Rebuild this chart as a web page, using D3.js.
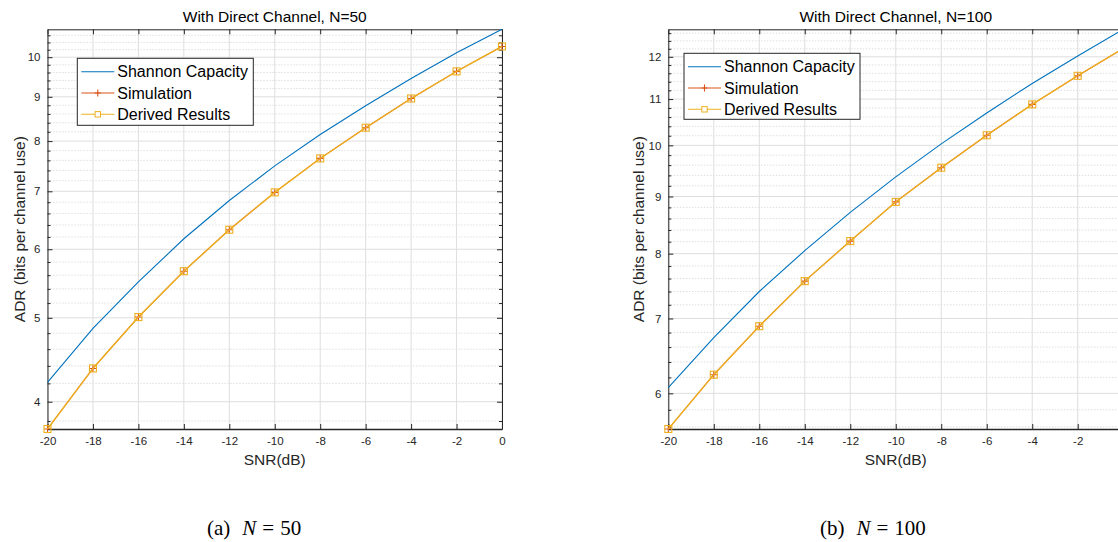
<!DOCTYPE html>
<html>
<head>
<meta charset="utf-8">
<script src="https://cdn.jsdelivr.net/npm/d3@7"></script>
<style>
  html, body { margin: 0; padding: 0; background: #fff; }
  svg { display: block; }
  text { font-family: "Liberation Sans", Arial, Helvetica, sans-serif; }
</style>
</head>
<body>
<svg id="chart" width="1118" height="542"></svg>
<script>
// ---------------- DATA ----------------
const snr = [-20, -18, -16, -14, -12, -10, -8, -6, -4, -2, 0];
const xTicks = [-20, -18, -16, -14, -12, -10, -8, -6, -4, -2, 0];

const shannon50 = [4.21, 4.86, 5.50, 6.17, 6.83, 7.49, 8.14, 8.79, 9.45, 10.12, 10.77];
const simulation50 = [3.72, 4.37, 5.01, 5.66, 6.32, 6.98, 7.64, 8.29, 8.96, 9.63, 10.29];
const derived50 = [3.72, 4.37, 5.01, 5.66, 6.32, 6.98, 7.64, 8.29, 8.96, 9.63, 10.29];
const yTicks50 = [4, 5, 6, 7, 8, 9, 10];

const shannon100 = [6.07, 6.73, 7.40, 8.05, 8.71, 9.37, 10.03, 10.69, 11.36, 12.02, 12.70];
const simulation100 = [5.575, 6.235, 6.89, 7.56, 8.21, 8.90, 9.55, 10.21, 10.88, 11.54, 12.21];
const derived100 = [5.575, 6.235, 6.89, 7.56, 8.21, 8.90, 9.55, 10.21, 10.88, 11.54, 12.21];
const yTicks100 = [6, 7, 8, 9, 10, 11, 12];

const seriesNames = ["Shannon Capacity", "Simulation", "Derived Results"];
const titles = ["With Direct Channel, N=50", "With Direct Channel, N=100"];
const captions = [["(a)", "50"], ["(b)", "100"]];
const xLabel = "SNR(dB)";
const yLabel = "ADR (bits per channel use)";

// ---------------- STYLE ----------------
const colors = { shannon: "#0072BD", sim: "#D95319", derived: "#EDB120" };
const axisColor = "#262626";
const W = 1118;

const svg = d3.select("#chart");

const panels = [
  { left: 47.5, right: 502, top: 29.3, bottom: 429, shannon: shannon50, sim: simulation50, der: derived50,
    yTicks: yTicks50, title: titles[0], legend: { x: 77.3, y: 58.3, w: 176, h: 67 },
    ylabX: 25, caption: captions[0], capX: 207 },
  { left: 668.3, right: 1123.2, top: 29.3, bottom: 429, shannon: shannon100, sim: simulation100, der: derived100,
    yTicks: yTicks100, title: titles[1], legend: { x: 684, y: 53.3, w: 176, h: 66 },
    ylabX: 644, caption: captions[1], capX: 820 }
];

panels.forEach(p => {
  const all = p.shannon.concat(p.sim, p.der);
  const x = d3.scaleLinear().domain([d3.min(snr), d3.max(snr)]).range([p.left, p.right]);
  const y = d3.scaleLog().domain([d3.min(all), d3.max(all)]).range([p.bottom, p.top]);
  const [y0, y1] = y.domain();
  const minor = d3.range(Math.ceil(y0 / 0.2) * 0.2, y1, 0.2)
    .map(v => Math.round(v * 10) / 10)
    .filter(v => !p.yTicks.some(t => Math.abs(t - v) < 1e-6) && v >= y0 && v <= y1);

  const g = svg.append("g");

  g.append("rect").attr("x", p.left).attr("y", p.top)
    .attr("width", p.right - p.left).attr("height", p.bottom - p.top).attr("fill", "#fff");

  // minor grid (dotted)
  g.selectAll(".mg").data(minor).join("line")
    .attr("x1", p.left).attr("x2", p.right)
    .attr("y1", d => y(d)).attr("y2", d => y(d))
    .attr("stroke", "#c4c4c4").attr("stroke-width", 0.8).attr("stroke-dasharray", "1,2");
  // major grid
  g.selectAll(".gy").data(p.yTicks).join("line")
    .attr("x1", p.left).attr("x2", p.right)
    .attr("y1", d => y(d)).attr("y2", d => y(d))
    .attr("stroke", "#dedede").attr("stroke-width", 1);
  g.selectAll(".gx").data(xTicks).join("line")
    .attr("x1", d => x(d)).attr("x2", d => x(d))
    .attr("y1", p.top).attr("y2", p.bottom)
    .attr("stroke", "#dedede").attr("stroke-width", 1);

  // axes via d3 axis generators (hyphen-minus labels like the original)
  const fmt = d => (x(d) > W - 6 ? "" : String(d));
  const axB = d3.axisBottom(x).tickValues(xTicks).tickSizeInner(-5).tickSizeOuter(0).tickPadding(8)
    .tickFormat(fmt);
  const axT = d3.axisTop(x).tickValues(xTicks).tickSizeInner(-5).tickSizeOuter(0).tickFormat("");
  const axL = d3.axisLeft(y).tickValues(p.yTicks).tickSizeInner(-5).tickSizeOuter(0).tickPadding(7)
    .tickFormat(d => String(d));
  const axR = d3.axisRight(y).tickValues(p.yTicks).tickSizeInner(-5).tickSizeOuter(0).tickFormat("");
  const axLm = d3.axisLeft(y).tickValues(minor).tickSizeInner(-3).tickSizeOuter(0).tickFormat("");
  const axRm = d3.axisRight(y).tickValues(minor).tickSizeInner(-3).tickSizeOuter(0).tickFormat("");

  const styleAxis = sel => {
    sel.selectAll("path").attr("stroke", axisColor);
    sel.selectAll("line").attr("stroke", axisColor);
    sel.selectAll("text").attr("fill", axisColor).style("font-size", "11.5px")
      .style("font-family", '"Liberation Sans", Arial, sans-serif');
  };
  g.append("g").attr("transform", `translate(0,${p.bottom})`).call(axB).call(styleAxis)
    .select("path").attr("stroke-width", 1.5);
  g.append("g").attr("transform", `translate(0,${p.top})`).call(axT).call(styleAxis);
  g.append("g").attr("transform", `translate(${p.left},0)`).call(axL).call(styleAxis);
  g.append("g").attr("transform", `translate(${p.right},0)`).call(axR).call(styleAxis);
  g.append("g").attr("transform", `translate(${p.left},0)`).call(axLm).call(styleAxis).select("path").remove();
  g.append("g").attr("transform", `translate(${p.right},0)`).call(axRm).call(styleAxis).select("path").remove();

  // lines
  const line = d3.line().x((d, i) => x(snr[i])).y(d => y(d));
  g.append("path").datum(p.shannon).attr("d", line).attr("fill", "none")
    .attr("stroke", colors.shannon).attr("stroke-width", 1.1);
  g.append("path").datum(p.sim).attr("d", line).attr("fill", "none")
    .attr("stroke", colors.sim).attr("stroke-width", 1.1);
  const plus = 3.5;
  g.selectAll(".pm").data(p.sim).join("path")
    .attr("d", (d, i) => {
      const cx = x(snr[i]), cy = y(d);
      return `M${cx - plus},${cy}H${cx + plus}M${cx},${cy - plus}V${cy + plus}`;
    })
    .attr("stroke", colors.sim).attr("stroke-width", 1.1).attr("fill", "none");
  g.append("path").datum(p.der).attr("d", line).attr("fill", "none")
    .attr("stroke", colors.derived).attr("stroke-width", 1.3);
  const sq = 3.5;
  g.selectAll(".sq").data(p.der).join("rect")
    .attr("x", (d, i) => x(snr[i]) - sq).attr("y", d => y(d) - sq)
    .attr("width", sq * 2).attr("height", sq * 2)
    .attr("fill", "none").attr("stroke", colors.derived).attr("stroke-width", 1.1);

  // title & labels
  const cx = (p.left + p.right) / 2;
  svg.append("text").attr("x", cx).attr("y", 22).attr("text-anchor", "middle")
    .style("font-size", "15.5px").attr("fill", "#000").text(p.title);
  svg.append("text").attr("x", cx).attr("y", 465).attr("text-anchor", "middle")
    .style("font-size", "15.5px").attr("fill", axisColor).text(xLabel);
  svg.append("text").attr("transform", `translate(${p.ylabX},${(p.top + p.bottom) / 2}) rotate(-90)`)
    .attr("text-anchor", "middle").style("font-size", "15.5px").attr("fill", axisColor).text(yLabel);

  // legend
  const L = p.legend;
  const lg = svg.append("g");
  lg.append("rect").attr("x", L.x).attr("y", L.y).attr("width", L.w).attr("height", L.h)
    .attr("fill", "#fff").attr("stroke", axisColor).attr("stroke-width", 1);
  const rows = [
    { name: seriesNames[0], color: colors.shannon, mk: null },
    { name: seriesNames[1], color: colors.sim, mk: "plus" },
    { name: seriesNames[2], color: colors.derived, mk: "square" }
  ];
  rows.forEach((r, i) => {
    const ry = L.y + 13.4 + i * 21.3;
    lg.append("line").attr("x1", L.x + 4).attr("x2", L.x + 37).attr("y1", ry).attr("y2", ry)
      .attr("stroke", r.color).attr("stroke-width", 1.1);
    const mx = L.x + 20.5;
    if (r.mk === "plus") {
      lg.append("path").attr("d", `M${mx - 3},${ry}H${mx + 3}M${mx},${ry - 3.5}V${ry + 3.5}`)
        .attr("stroke", r.color).attr("stroke-width", 1.1);
    } else if (r.mk === "square") {
      lg.append("rect").attr("x", mx - 2.7).attr("y", ry - 2.7).attr("width", 5.4).attr("height", 5.4)
        .attr("fill", "#fff").attr("stroke", r.color).attr("stroke-width", 1);
    }
    lg.append("text").attr("x", L.x + 40).attr("y", ry).attr("dy", "0.35em")
      .style("font-size", "16px").attr("fill", "#000").text(r.name);
  });

  // caption
  const cap = svg.append("text").attr("x", p.capX).attr("y", 535)
    .style("font-family", '"Liberation Serif", "Times New Roman", serif').style("font-size", "21px")
    .attr("fill", "#000");
  cap.append("tspan").text(p.caption[0]);
  cap.append("tspan").attr("dx", 12).style("font-style", "italic").text("N");
  cap.append("tspan").attr("dx", 6).text("=");
  cap.append("tspan").attr("dx", 6).text(p.caption[1]);
});
</script>
</body>
</html>
